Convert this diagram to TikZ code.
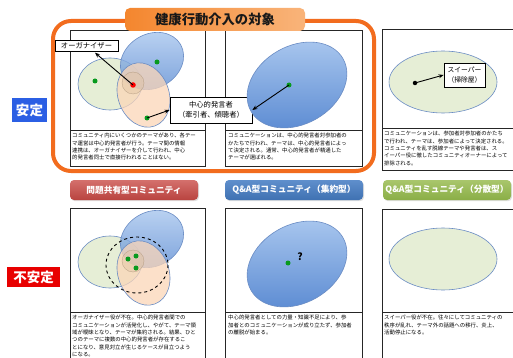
\documentclass[tikz,border=0pt]{standalone}
\usepackage{fontspec}
\setmainfont{Noto Sans CJK JP}
\usetikzlibrary{arrows.meta,shadows}
\definecolor{frameor}{HTML}{F26C1E}
\definecolor{tabor1}{HTML}{F4862E}
\definecolor{tabor2}{HTML}{F9B47A}
\definecolor{ellgreenc}{HTML}{E6EED6}
\definecolor{ellborder}{HTML}{6A8CC4}
\definecolor{blueL}{HTML}{A8C6EE}
\definecolor{blueD}{HTML}{5A8AD2}
\definecolor{peachc}{HTML}{FBD6B8}
\definecolor{dotgreen}{HTML}{089A1E}
\definecolor{tanc}{HTML}{E2C4A4}
\definecolor{stableblue}{HTML}{2B5FE4}
\definecolor{unstred}{HTML}{E80000}
\definecolor{redtab1}{HTML}{B9433F}
\definecolor{redtab2}{HTML}{D4706C}
\definecolor{bluetab1}{HTML}{3F71B2}
\definecolor{bluetab2}{HTML}{5F8FCC}
\definecolor{greentab1}{HTML}{8AAE46}
\definecolor{greentab2}{HTML}{A9C66C}
\begin{document}
\begin{tikzpicture}[x=1pt,y=-1pt,
  panel/.style={draw=black!85, line width=0.8pt, fill=white, anchor=north west, inner sep=0pt},
  divider/.style={draw=black!85, line width=0.8pt},
  desc/.style={anchor=north west, inner sep=0pt, align=left, font=\fontsize{5.4pt}{7.4pt}\selectfont},
  lbl/.style={draw=black, line width=0.8pt, fill=white, inner sep=0pt, align=center, font=\fontsize{7.3pt}{10.5pt}\selectfont},
  gdot/.style={circle, fill=dotgreen, inner sep=0pt, minimum size=5pt},
  arr/.style={-{Stealth[length=5pt,width=4pt]}, line width=0.9pt},
  ellg/.style={draw=ellborder, line width=0.6pt, fill=ellgreenc},
  ellb/.style={draw=ellborder, line width=0.6pt, top color=blueL, bottom color=blueD, fill opacity=0.8},
  ellp/.style={draw=ellborder, line width=0.6pt, fill=peachc, fill opacity=0.75},
  smallc/.style={draw=tanc!80!black, line width=0.3pt, fill=tanc, fill opacity=0.45},
  tabbox/.style={rounded corners=4pt, minimum height=20pt, inner sep=0pt, text=white, font=\bfseries\fontsize{8.7pt}{10pt}\selectfont, drop shadow={opacity=0.25, shadow xshift=1pt, shadow yshift=-1.2pt}},
  statebox/.style={inner sep=0pt, text=white, font=\bfseries\fontsize{13.5pt}{14pt}\selectfont}
]
\useasboundingbox (0,0) rectangle (513,358);
\clip (0,0) rectangle (513,358);
\fill[white] (0,0) rectangle (513,358);

% orange frame
\draw[frameor, line width=4pt, rounded corners=18pt] (53,21) rectangle (374,171);

% top row panels
\node[panel, minimum width=135pt, minimum height=136pt] (p1) at (70,30) {};
\draw[divider] (70,130) -- (205,130);
\node[panel, minimum width=137pt, minimum height=136pt] (p2) at (225,30) {};
\draw[divider] (225,130) -- (362,130);
\node[panel, minimum width=140pt, minimum height=141pt] (p3) at (382,29) {};
\draw[divider] (382,128) -- (522,128);

% bottom row panels
\node[panel, minimum width=135pt, minimum height=160pt] (p4) at (70,208) {};
\draw[divider] (70,312) -- (205,312);
\node[panel, minimum width=137pt, minimum height=160pt] (p5) at (225,208) {};
\draw[divider] (225,312) -- (362,312);
\node[panel, minimum width=140pt, minimum height=160pt] (p6) at (382,209) {};
\draw[divider] (382,312) -- (522,312);

% venn shapes (panel 1 and 4)
\foreach \dy in {0,178} {
  \begin{scope}[shift={(0,\dy)}]
    \draw[ellg] (110,84) ellipse [x radius=32, y radius=26];
    \draw[ellb, shift={(152,61)}, rotate=30] (0,0) ellipse [x radius=33, y radius=27];
    \draw[ellp, shift={(143.5,95)}, rotate=20] (0,0) ellipse [x radius=25.5, y radius=33];
    \draw[smallc] (133,83) circle [radius=11];
  \end{scope}
}
\draw[dashed, line width=0.9pt] (137,265) ellipse [x radius=31, y radius=28];

% panel 1 dots and labels
\node[gdot] (g1a) at (95,81) {};
\node[gdot] (g1b) at (157,62) {};
\node[gdot] (g1c) at (147,118) {};
\node[circle, fill=red, inner sep=0pt, minimum size=5.5pt] (rd) at (133,85) {};
\node[lbl, minimum width=63pt, minimum height=11pt] (org) at (86.5,45.5) {オーガナイザー};
\node[lbl, minimum width=82pt, minimum height=26pt] (cbox) at (211,110) {中心的発言者\\（牽引者、傾聴者）};
\draw[arr, shorten >=2pt] (rd.center) -- (org);
\draw[arr] (g1c.center) -- (cbox.west);

% panel 2
\draw[ellb, fill opacity=1, shift={(297,85)}, rotate=30] (0,0) ellipse [x radius=53, y radius=39];
\node[gdot] (g2) at (289,85) {};
\draw[arr] (g2.center) -- (cbox.east);

% panel 3
\draw[ellg] (443,82) ellipse [x radius=54, y radius=31];
\node[circle, fill=black, inner sep=0pt, minimum size=4.5pt] (bd) at (415,83) {};
\node[lbl, minimum width=41pt, minimum height=24pt, font=\fontsize{6.8pt}{9.5pt}\selectfont] (swp) at (464.5,75) {スイーパー\\（掃除屋）};
\draw[arr] (bd.center) -- (swp.west);

% panel 4 dots
\node[gdot] (g4a) at (128,259) {};
\node[gdot] (g4b) at (136,256) {};
\node[gdot] (g4c) at (136,268) {};

% panel 5
\draw[ellb, fill opacity=1, shift={(297,264)}, rotate=30] (0,0) ellipse [x radius=53, y radius=39];
\node[gdot] (g5) at (288,263) {};
\node[inner sep=0pt, font=\bfseries\fontsize{10pt}{10pt}\selectfont] (q) at (300,257) {?};

% panel 6
\draw[ellg] (443,259) ellipse [x radius=54, y radius=31];

% descriptions
\node[desc] (t1) at (72,133) {コミュニティ内にいくつかのテーマがあり、各テー\\マ運営は中心的発言者が行う。テーマ間の情報\\連携は、オーガナイザーを介して行われ、中心\\的発言者同士で直接行われることはない。};
\node[desc] (t2) at (228,133) {コミュニケーションは、中心的発言者対参加者の\\かたちで行われ、テーマは、中心的発言者によっ\\て決定される。通常、中心的発言者が精通した\\テーマが選ばれる。};
\node[desc] (t3) at (384,131) {コミュニケーションは、参加者対参加者のかたち\\で行われ、テーマは、参加者によって決定される。\\コミュニティを乱す脱線テーマや発言者は、ス\\イーパー役に徹したコミュニティオーナーによって\\排除される。};
\node[desc] (t4) at (72,315) {オーガナイザー役が不在。中心的発言者間での\\コミュニケーションが活発化し、やがて、テーマ領\\域が曖昧となり、テーマが集約される。結果、ひと\\つのテーマに複数の中心的発言者が存在するこ\\とになり、意見対立が生じるケースが目立つよう\\になる。};
\node[desc] (t5) at (228,315) {中心的発言者としての力量・知識不足により、参\\加者とのコミュニケーションが成り立たず、参加者\\の離脱が始まる。};
\node[desc] (t6) at (384,315) {スイーパー役が不在。往々にしてコミュニティの\\秩序が乱れ、テーマ外の話題への移行、炎上、\\活動停止になる。};

% title tab
\node[rounded corners=5pt, left color=tabor1, right color=tabor2, minimum width=180pt, minimum height=23pt, inner sep=0pt, text=black!90, font=\bfseries\fontsize{13.3pt}{14pt}\selectfont] (title) at (215,19.5) {健康行動介入の対象};

% state labels
\node[statebox, fill=stableblue, minimum width=35pt, minimum height=24pt] (st) at (29.5,110) {安定};
\node[statebox, fill=unstred, minimum width=53pt, minimum height=20pt] (ust) at (33.5,277) {不安定};

% type tabs
\node[tabbox, top color=redtab2, bottom color=redtab1, minimum width=128pt] (tabr) at (134,190) {問題共有型コミュニティ};
\node[tabbox, top color=bluetab2, bottom color=bluetab1, minimum width=138pt] (tabb) at (294,190) {Q\&A型コミュニティ（集約型）};
\node[tabbox, top color=greentab2, bottom color=greentab1, minimum width=128pt] (tabg) at (447,190) {Q\&A型コミュニティ（分散型）};
\end{tikzpicture}
\end{document}
